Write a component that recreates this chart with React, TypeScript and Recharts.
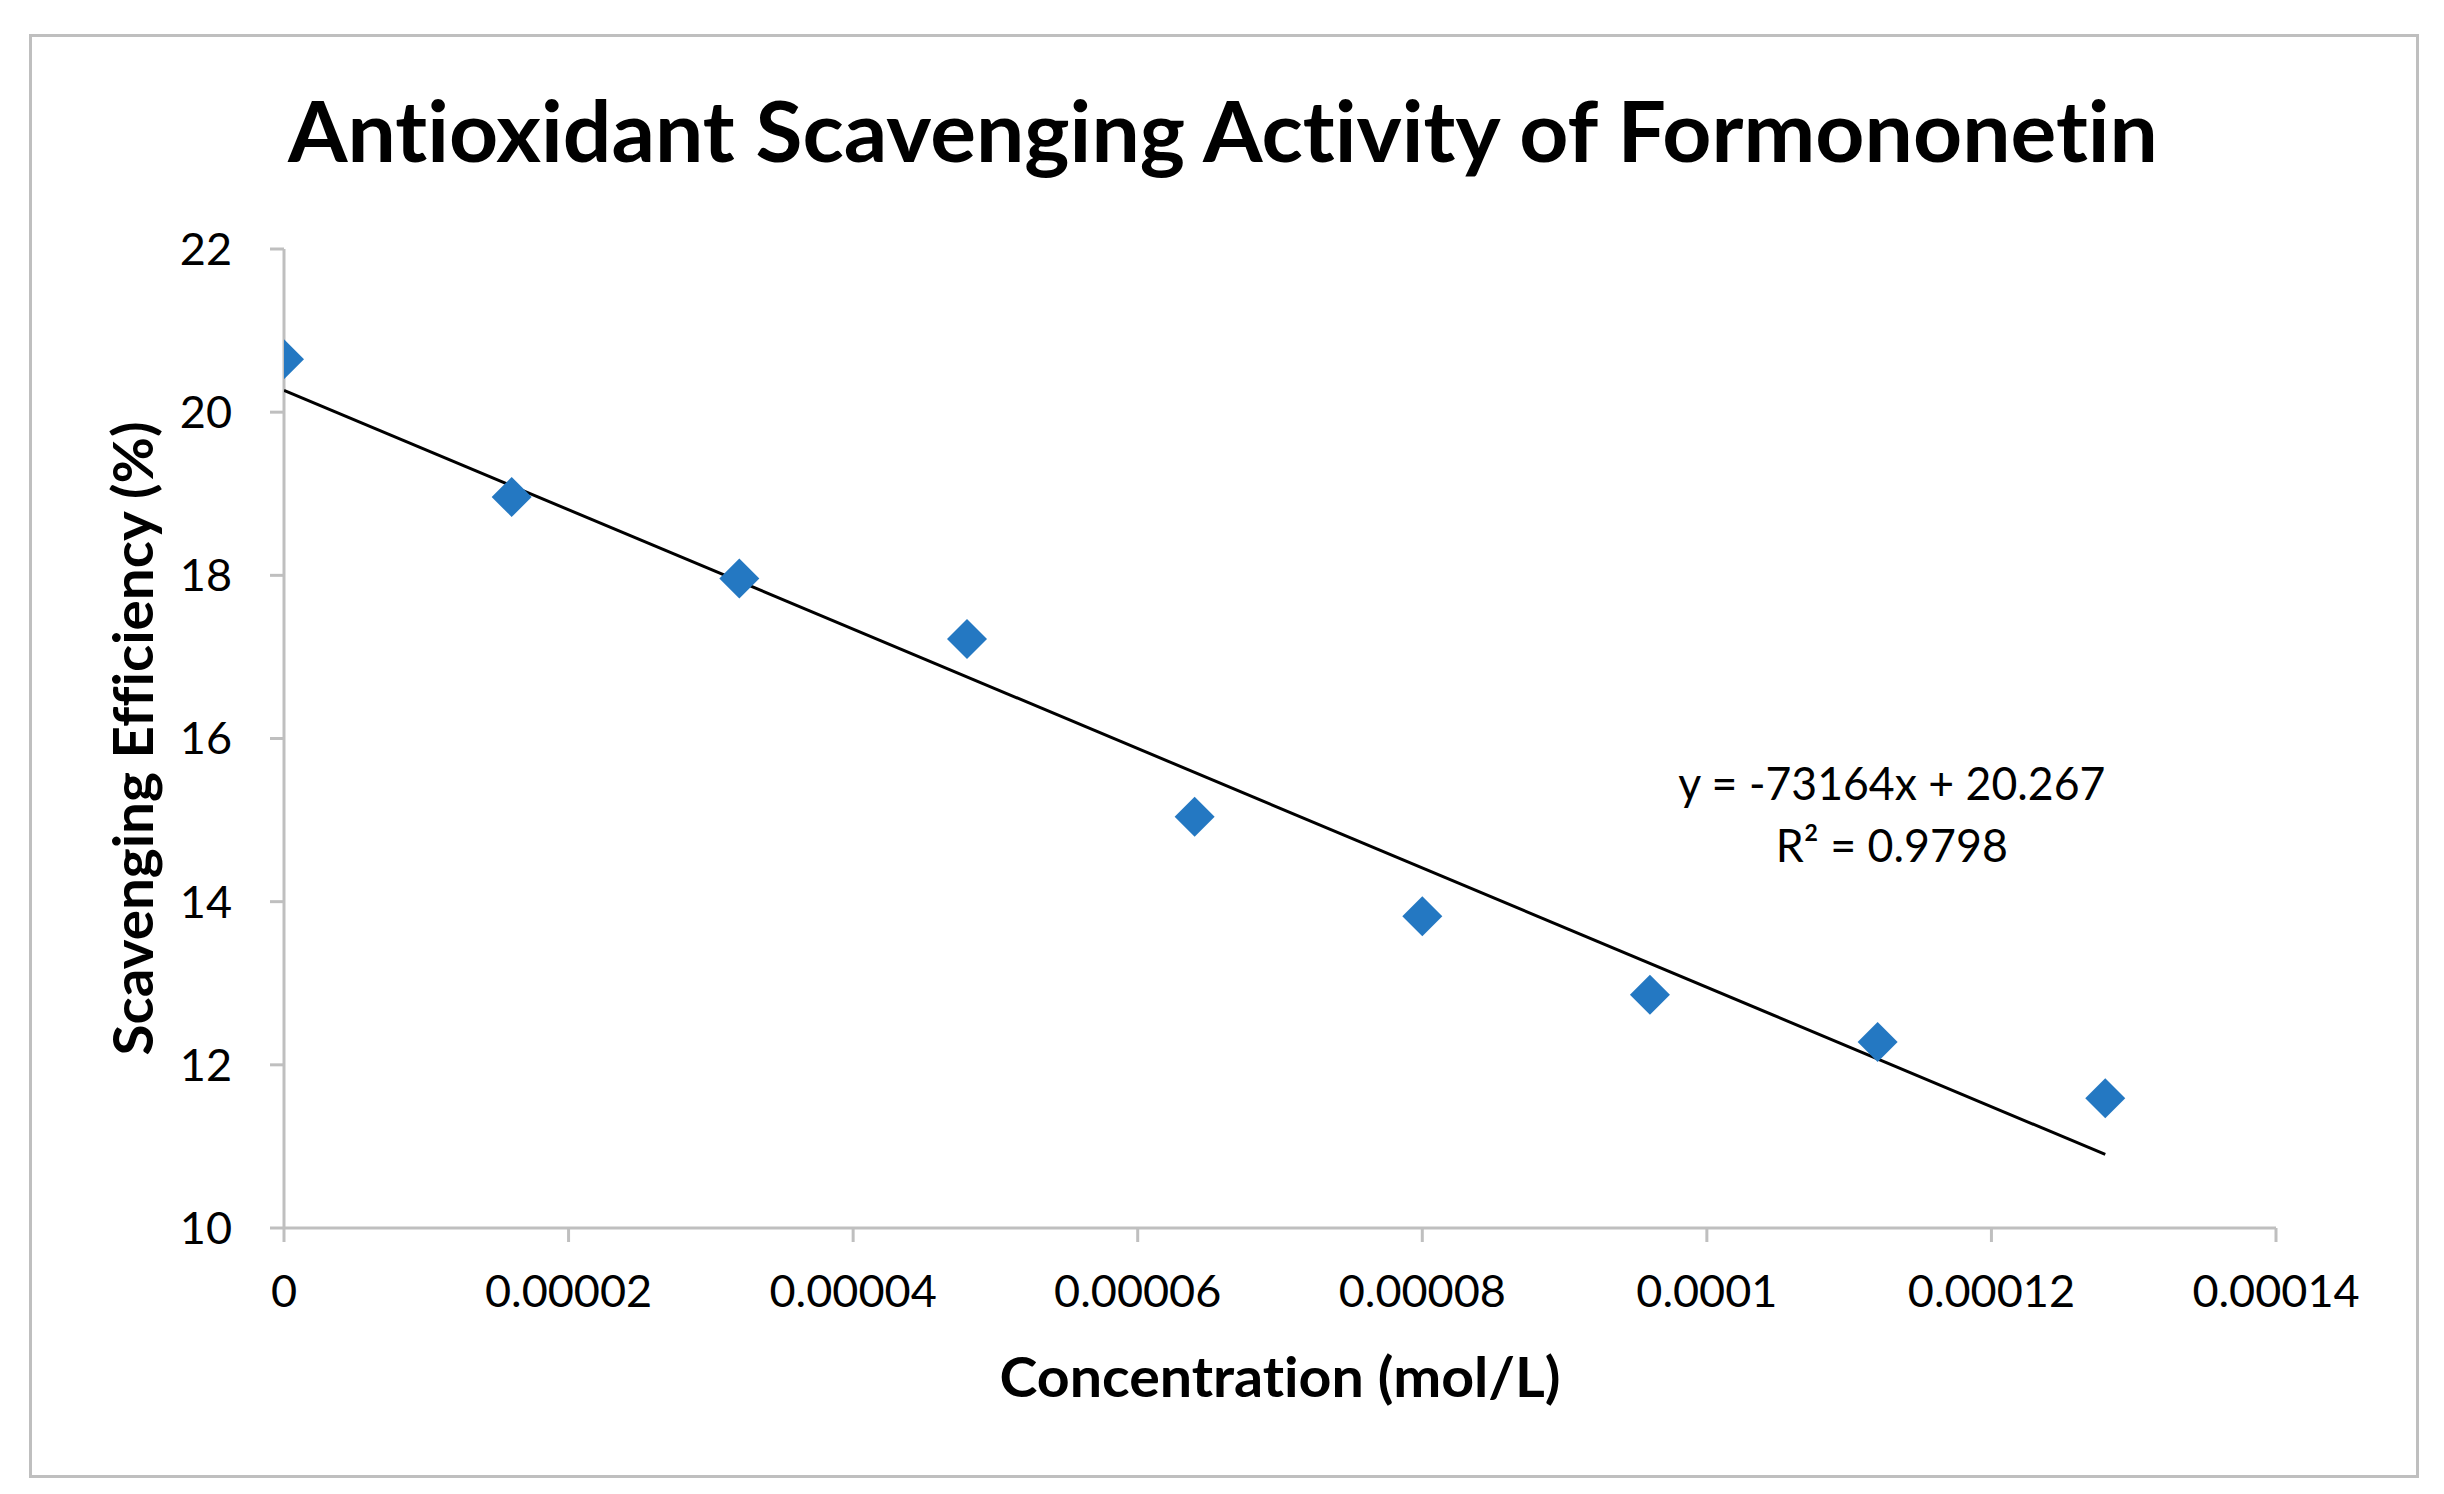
import { ScatterChart, Scatter, XAxis, YAxis, ReferenceDot, Label } from 'recharts';

// measured concentrations (mol/L) and scavenging efficiency (%)
const concentrations = [0, 0.000016, 0.000032, 0.000048, 0.000064, 0.00008, 0.000096, 0.000112, 0.000128];
const efficiency = [20.65, 18.96, 17.96, 17.22, 15.04, 13.82, 12.86, 12.28, 11.59];

// linear trendline end points (y = -73164x + 20.267)
const trendX = [0, 0.000128];
const trendY = [20.267, 10.902];

const xTicks = [0, 0.00002, 0.00004, 0.00006, 0.00008, 0.0001, 0.00012, 0.00014];
const xTickLabels = ['0', '0.00002', '0.00004', '0.00006', '0.00008', '0.0001', '0.00012', '0.00014'];
const yTicks = [10, 12, 14, 16, 18, 20, 22];

const equationLines = ['y = -73164x + 20.267', 'R² = 0.9798'];
const equationAnchor = { x: 0.000113, y: 15.44 };

const points = concentrations.map((c, i) => ({ x: c, y: efficiency[i] }));
const trend = trendX.map((c, i) => ({ x: c, y: trendY[i] }));

const FONT = 'Lato, "Open Sans", sans-serif';
const AXIS_GRAY = '#bfbfbf';
const MARKER_BLUE = '#2478c2';
const NO_LIGA = { fontVariantLigatures: 'none' as const };

const Diamond = (props: any) => {
  const { cx, cy } = props;
  if (cx == null || cy == null) return <g />;
  const r = 20;
  return (
    <polygon
      points={`${cx},${cy - r} ${cx + r},${cy} ${cx},${cy + r} ${cx - r},${cy}`}
      fill={MARKER_BLUE}
    />
  );
};

const XTitle = (props: any) => {
  const vb = props.viewBox;
  return (
    <text
      x={vb.x + vb.width / 2}
      y={vb.y + 169}
      textAnchor="middle"
      fontFamily={FONT}
      fontWeight={700}
      fontSize={56}
      textLength={561}
      lengthAdjust="spacingAndGlyphs"
      fill="#000"
      style={NO_LIGA}
    >
      Concentration (mol/L)
    </text>
  );
};

const YTitle = (props: any) => {
  const vb = props.viewBox;
  const cx = vb.x + vb.width - 131;
  const cy = vb.y + vb.height / 2;
  return (
    <text
      x={cx}
      y={cy}
      transform={`rotate(-90 ${cx} ${cy})`}
      textAnchor="middle"
      fontFamily={FONT}
      fontWeight={700}
      fontSize={56}
      textLength={634}
      lengthAdjust="spacingAndGlyphs"
      fill="#000"
      style={NO_LIGA}
    >
      Scavenging Efficiency (%)
    </text>
  );
};

const EquationLabel = (props: any) => {
  const vb = props.viewBox;
  const cx = vb.x + (vb.width || 0) / 2;
  const cy = vb.y + (vb.height || 0) / 2;
  return (
    <g>
      <text x={cx} y={cy + 16} textAnchor="middle" fontFamily={FONT} fontSize={46}
        textLength={427} lengthAdjust="spacingAndGlyphs" fill="#000">
        {equationLines[0]}
      </text>
      <text x={cx} y={cy + 78} textAnchor="middle" fontFamily={FONT} fontSize={46}
        textLength={232} lengthAdjust="spacingAndGlyphs" fill="#000">
        {equationLines[1]}
      </text>
    </g>
  );
};

export default function App() {
  return (
    <div style={{ position: 'relative', width: 2444, height: 1494, background: '#fff' }}>
      <style>{`body{margin:0}`}</style>
      <div
        style={{
          position: 'absolute',
          left: 29,
          top: 34,
          width: 2384,
          height: 1438,
          border: `3px solid ${AXIS_GRAY}`,
        }}
      />
      <svg style={{ position: 'absolute', left: 0, top: 0 }} width={2444} height={200}>
        <text
          x={1223}
          y={162}
          textAnchor="middle"
          fontFamily={FONT}
          fontWeight={700}
          fontSize={84}
          textLength={1870}
          lengthAdjust="spacingAndGlyphs"
          fill="#000"
          style={NO_LIGA}
        >
          Antioxidant Scavenging Activity of Formononetin
        </text>
      </svg>
      <div style={{ position: 'absolute', left: 0, top: 0 }}>
        <ScatterChart
          width={2444}
          height={1494}
          margin={{ top: 249, right: 168, bottom: 206, left: 184 }}
        >
          <XAxis
            type="number"
            dataKey="x"
            domain={[0, 0.00014]}
            ticks={xTicks}
            tickFormatter={(v: number, i: number) => xTickLabels[i] ?? String(v)}
            height={60}
            axisLine={{ stroke: AXIS_GRAY, strokeWidth: 3 }}
            tickLine={{ stroke: AXIS_GRAY, strokeWidth: 3 }}
            tickSize={14}
            tickMargin={33}
            tick={{ fill: '#000', fontSize: 45, fontFamily: FONT }}
            interval={0}
            allowDataOverflow
          >
            <Label content={<XTitle />} />
          </XAxis>
          <YAxis
            type="number"
            dataKey="y"
            domain={[10, 22]}
            ticks={yTicks}
            width={100}
            axisLine={{ stroke: AXIS_GRAY, strokeWidth: 3 }}
            tickLine={{ stroke: AXIS_GRAY, strokeWidth: 3 }}
            tickSize={14}
            tickMargin={38}
            tick={{ fill: '#000', fontSize: 45, fontFamily: FONT }}
            interval={0}
            allowDataOverflow
          >
            <Label content={<YTitle />} />
          </YAxis>
          <Scatter
            data={trend}
            line={{ stroke: '#000', strokeWidth: 3 }}
            shape={() => <g />}
            isAnimationActive={false}
          />
          <Scatter data={points} shape={<Diamond />} isAnimationActive={false} />
          <ReferenceDot
            x={equationAnchor.x}
            y={equationAnchor.y}
            r={0}
            stroke="none"
            fill="none"
            label={<EquationLabel />}
          />
        </ScatterChart>
      </div>
    </div>
  );
}
